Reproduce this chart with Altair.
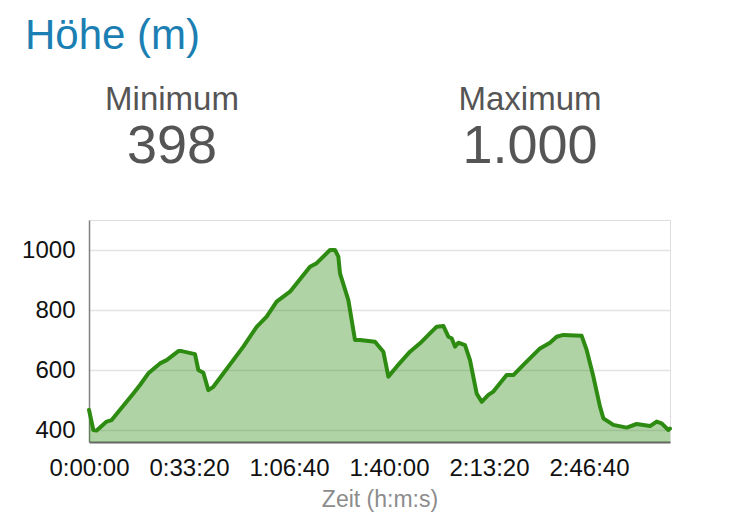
import altair as alt
import pandas as pd

# Elevation profile: time in seconds, elevation in metres
TIME_S = [0, 87, 153, 353, 453, 887, 1020, 1187, 1420, 1553, 1787, 1853, 2120, 2187,
          2287, 2387, 2487, 3087, 3353, 3553, 3753, 4020, 4420, 4553, 4820, 4920, 4987,
          5020, 5187, 5320, 5420, 5720, 5887, 5987, 6153, 6420, 6620, 6853, 6953, 7087,
          7187, 7253, 7320, 7387, 7520, 7620, 7753, 7853, 7987, 8087, 8353, 8487, 8687,
          9020, 9220, 9353, 9487, 9853, 9953, 10087, 10220, 10287, 10487, 10753, 10953,
          11220, 11353, 11453, 11587, 11620]
HEIGHT_M = [467, 400, 398, 428, 433, 522, 550, 589, 622, 633, 663, 663, 653, 600,
            591, 533, 544, 678, 744, 778, 828, 861, 944, 956, 1000, 1000, 978,
            922, 833, 700, 700, 694, 661, 578, 611, 661, 689, 728, 744, 747,
            711, 706, 678, 691, 683, 633, 522, 494, 517, 528, 583, 583, 617,
            672, 691, 711, 717, 714, 667, 578, 478, 439, 417, 408, 420,
            413, 428, 422, 400, 405]

X_TICKS = [0, 2000, 4000, 6000, 8000, 10000]
Y_TICKS = [400, 600, 800, 1000]
Y_DOMAIN = [360, 1100]
X_DOMAIN = [0, 11620]

TITLE = "Höhe (m)"
STAT_NAMES = ["Minimum", "Maximum"]
STAT_VALUES = ["398", "1.000"]
X_TITLE = "Zeit (h:m:s)"

df = pd.DataFrame({"t": TIME_S, "h": HEIGHT_M})
stats = pd.DataFrame({"name": STAT_NAMES, "value": STAT_VALUES})

GREEN = "#2e8b12"
FONT = "Liberation Sans"

time_fmt = ("floor(datum.value/3600) + ':' + "
            "(floor((datum.value%3600)/60) < 10 ? '0' : '') + floor((datum.value%3600)/60) + ':' + "
            "(floor(datum.value%60) < 10 ? '0' : '') + floor(datum.value%60)")

x_enc = alt.X("t:Q",
              scale=alt.Scale(domain=X_DOMAIN, nice=False, zero=False),
              axis=alt.Axis(values=X_TICKS, labelExpr=time_fmt, title=X_TITLE,
                            grid=False, ticks=False, labelPadding=14, labelFlush=False,
                            labelFontSize=24, labelColor="#111", labelFont=FONT,
                            titleFont=FONT, titleFontSize=23, titleFontWeight="normal",
                            titleColor="#8c8c8c", titleBaseline="alphabetic", titleY=64,
                            domainColor="#666", domainWidth=2, labelOverlap=False))
y_enc = alt.Y("h:Q",
              scale=alt.Scale(domain=Y_DOMAIN, nice=False, zero=False),
              axis=alt.Axis(values=Y_TICKS, format="d", title=None, grid=True,
                            gridColor="#e3e3e3", gridWidth=1.5, ticks=False,
                            labelPadding=14, labelFontSize=24, labelColor="#111",
                            labelFont=FONT, domainColor="#808080", domainWidth=1.5))

base = alt.Chart(df)
area = base.mark_area(color=GREEN, opacity=0.38, clip=True).encode(x=x_enc, y=y_enc)
line = base.mark_line(color=GREEN, strokeWidth=4, strokeJoin="round",
                      strokeCap="round").encode(x="t:Q", y="h:Q")

title_txt = alt.Chart(stats).transform_filter(alt.datum.name == "Minimum").mark_text(
    font=FONT, fontSize=42, color="#1b7fb3", align="left", baseline="alphabetic"
).encode(text=alt.datum(TITLE), x=alt.value(-64), y=alt.value(-171))

def stat_layer(name, cx):
    sub = alt.Chart(stats).transform_filter(alt.datum.name == name)
    lab = sub.mark_text(font=FONT, fontSize=33, color="#555", align="center",
                        baseline="alphabetic").encode(text="name:N", x=alt.value(cx),
                                                      y=alt.value(-110))
    val = sub.mark_text(font=FONT, fontSize=54, color="#555", align="center",
                        baseline="alphabetic").encode(text="value:N", x=alt.value(cx),
                                                      y=alt.value(-57))
    return lab + val

chart = alt.layer(area, line, title_txt, stat_layer("Minimum", 83),
                  stat_layer("Maximum", 441)).properties(
    width=581, height=222,
    autosize=alt.AutoSizeParams(type="none"),
    padding={"left": 81, "top": 212, "right": 72, "bottom": 79},
).configure_view(stroke=None).configure(background="white")

chart.save("out.html", embed_options={"renderer": "svg", "actions": False})
